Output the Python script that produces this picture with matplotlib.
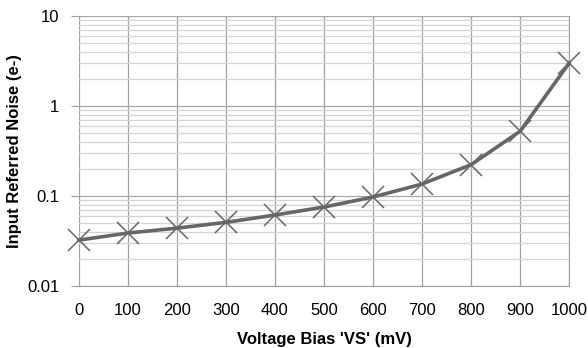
import matplotlib
matplotlib.use("Agg")
import matplotlib.pyplot as plt
from matplotlib.ticker import LogLocator, NullFormatter, FixedLocator

plt.rcParams['font.family'] = ['Liberation Sans', 'DejaVu Sans']

#values
voltage = [0, 100, 200, 300, 400, 500, 600, 700, 800, 900, 1000]
noise = [0.0324, 0.0388, 0.044, 0.051, 0.0615, 0.0755, 0.0975, 0.136, 0.223, 0.525, 3.0]
x_ticks = [0, 100, 200, 300, 400, 500, 600, 700, 800, 900, 1000]
y_ticks = [0.01, 0.1, 1, 10]
y_labels = ['0.01', '0.1', '1', '10']

fig = plt.figure(figsize=(5.88, 3.48), dpi=100)
ax = fig.add_axes([0.134, 0.178, 0.834, 0.776])

ax.set_yscale('log')
ax.set_xlim(0, 1000)
ax.set_ylim(0.01, 10)

#gridlines
ax.yaxis.set_minor_locator(LogLocator(base=10, subs=range(2, 10)))
ax.yaxis.set_minor_formatter(NullFormatter())
ax.grid(True, which='minor', axis='y', color='#d4d4d4', linewidth=0.9)
ax.grid(True, which='major', axis='y', color='#a8a8a8', linewidth=0.9)
ax.xaxis.set_major_locator(FixedLocator(x_ticks))
ax.grid(True, which='major', axis='x', color='#a0a0a0', linewidth=0.9)
ax.set_axisbelow(True)

ax.plot(voltage, noise, color='#666666', linewidth=2.6, marker='x',
        markersize=16, markeredgewidth=1.1, markeredgecolor='#666666',
        clip_on=False, zorder=3)

ax.set_yticks(y_ticks)
ax.set_yticklabels(y_labels)
ax.tick_params(axis='y', which='major', length=6, color='#a0a0a0', labelsize=12, pad=8)
ax.tick_params(axis='y', which='minor', length=0)
ax.tick_params(axis='x', length=0, labelsize=12, pad=12)

for side in ['top', 'left']:
    ax.spines[side].set_visible(False)
ax.spines['bottom'].set_color('#a0a0a0')
ax.spines['right'].set_color('#a0a0a0')

ax.set_xlabel("Voltage Bias 'VS' (mV)", fontsize=12, fontweight='bold', labelpad=10)
ax.set_ylabel("Input Referred Noise (e-)", fontsize=12, fontweight='bold', labelpad=4)

fig.savefig('out.png', dpi=100)
